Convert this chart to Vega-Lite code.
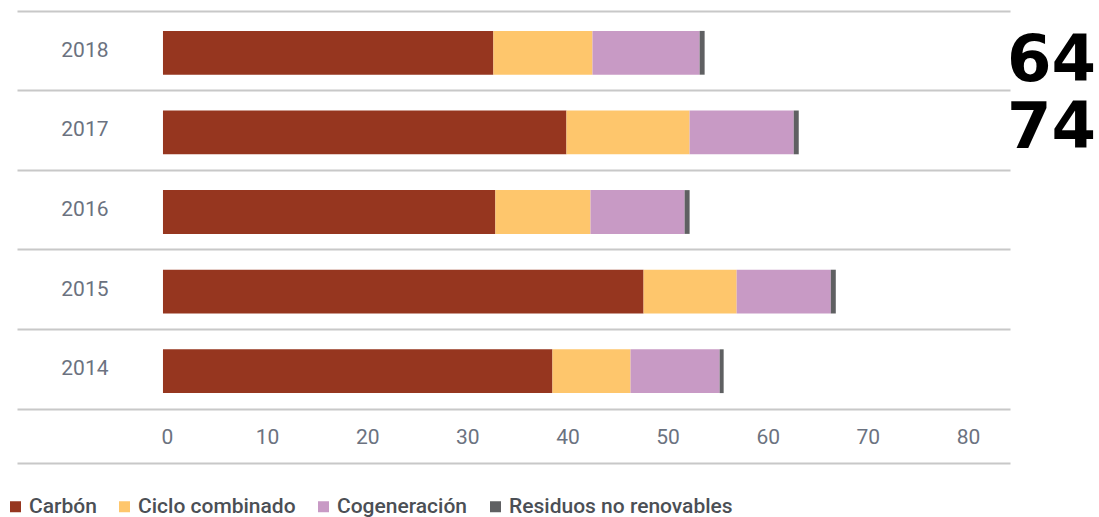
{
  "$schema": "https://vega.github.io/schema/vega-lite/v6.json",
  "width": 993,
  "height": 398,
  "autosize": "none",
  "padding": {"left": 17, "top": 11, "right": 89, "bottom": 108},
  "background": "white",
  "config": {"view": {"stroke": null}, "font": "Roboto"},
  "layer": [
    {
      "data": {
        "values": [
          {"year": "2018", "fuente": "Carbón", "orden": 1, "value": 33.0},
          {"year": "2018", "fuente": "Ciclo combinado", "orden": 2, "value": 9.9},
          {"year": "2018", "fuente": "Cogeneración", "orden": 3, "value": 10.7},
          {"year": "2018", "fuente": "Residuos no renovables", "orden": 4, "value": 0.5},
          {"year": "2017", "fuente": "Carbón", "orden": 1, "value": 40.3},
          {"year": "2017", "fuente": "Ciclo combinado", "orden": 2, "value": 12.3},
          {"year": "2017", "fuente": "Cogeneración", "orden": 3, "value": 10.4},
          {"year": "2017", "fuente": "Residuos no renovables", "orden": 4, "value": 0.5},
          {"year": "2016", "fuente": "Carbón", "orden": 1, "value": 33.2},
          {"year": "2016", "fuente": "Ciclo combinado", "orden": 2, "value": 9.5},
          {"year": "2016", "fuente": "Cogeneración", "orden": 3, "value": 9.4},
          {"year": "2016", "fuente": "Residuos no renovables", "orden": 4, "value": 0.5},
          {"year": "2015", "fuente": "Carbón", "orden": 1, "value": 48.0},
          {"year": "2015", "fuente": "Ciclo combinado", "orden": 2, "value": 9.3},
          {"year": "2015", "fuente": "Cogeneración", "orden": 3, "value": 9.4},
          {"year": "2015", "fuente": "Residuos no renovables", "orden": 4, "value": 0.5},
          {"year": "2014", "fuente": "Carbón", "orden": 1, "value": 38.9},
          {"year": "2014", "fuente": "Ciclo combinado", "orden": 2, "value": 7.8},
          {"year": "2014", "fuente": "Cogeneración", "orden": 3, "value": 8.9},
          {"year": "2014", "fuente": "Residuos no renovables", "orden": 4, "value": 0.4}
        ]
      },
      "mark": {"type": "bar", "height": {"band": 0.55}, "yOffset": 2},
      "encoding": {
        "y": {
          "field": "year",
          "type": "nominal",
          "sort": ["2018", "2017", "2016", "2015", "2014"],
          "scale": {"paddingInner": 0, "paddingOuter": 0},
          "axis": {
            "title": null,
            "domain": false,
            "ticks": false,
            "tickSize": 0,
            "labelPadding": -91,
            "labelFontSize": 21,
            "labelColor": "#6b7280",
            "grid": true,
            "gridColor": "#c8c8c8",
            "gridWidth": 2,
            "bandPosition": 1
          }
        },
        "x": {
          "field": "value",
          "type": "quantitative",
          "stack": "zero",
          "scale": {"domain": [-14.58, 84.6], "nice": false, "zero": false},
          "axis": {
            "title": null,
            "values": [0, 10, 20, 30, 40, 50, 60, 70, 80],
            "grid": false,
            "ticks": false,
            "tickSize": 0,
            "offset": 54,
            "domainColor": "#c8c8c8",
            "domainWidth": 2,
            "labelPadding": -26,
            "labelBaseline": "middle",
            "labelOffset": 4,
            "labelFontSize": 21,
            "labelColor": "#6b7280",
            "labelFlush": false
          }
        },
        "color": {
          "field": "fuente",
          "type": "nominal",
          "scale": {
            "domain": ["Carbón", "Ciclo combinado", "Cogeneración", "Residuos no renovables"],
            "range": ["#96361f", "#fec66c", "#c89ac5", "#5f6062"]
          },
          "legend": {
            "title": null,
            "orient": "none",
            "legendX": -12,
            "legendY": 485,
            "padding": 0,
            "direction": "horizontal",
            "symbolType": "square",
            "symbolSize": 121,
            "symbolStrokeWidth": 0,
            "labelFontSize": 21,
            "labelFontWeight": 500,
            "labelLimit": 0,
            "labelColor": "#4b4f55",
            "columnPadding": 17,
            "labelOffset": 3
          }
        },
        "order": {"field": "orden", "type": "quantitative"}
      }
    },
    {
      "data": {"values": [{"label": "64", "year": "2018"}]},
      "mark": {"type": "text", "align": "left", "baseline": "middle", "font": "DejaVu Sans", "fontWeight": "bold", "fontSize": 64, "color": "black", "dx": -3, "dy": 11},
      "encoding": {
        "text": {"field": "label"},
        "x": {
          "datum": 84.6,
          "type": "quantitative",
          "axis": {"orient": "top", "title": null, "labels": false, "ticks": false, "grid": false, "domainColor": "#c8c8c8", "domainWidth": 2}
        },
        "y": {"field": "year", "type": "nominal", "sort": ["2018", "2017", "2016", "2015", "2014"], "axis": null}
      }
    },
    {
      "data": {"values": [{"label": "74", "year": "2017"}]},
      "mark": {"type": "text", "align": "left", "baseline": "middle", "font": "DejaVu Sans", "fontWeight": "bold", "fontSize": 64, "color": "black", "dx": -3, "dy": -1},
      "encoding": {
        "text": {"field": "label"},
        "x": {"datum": 84.6, "type": "quantitative", "axis": null},
        "y": {"field": "year", "type": "nominal", "sort": ["2018", "2017", "2016", "2015", "2014"], "axis": null}
      }
    }
  ],
  "resolve": {"axis": {"x": "independent", "y": "independent"}}
}
